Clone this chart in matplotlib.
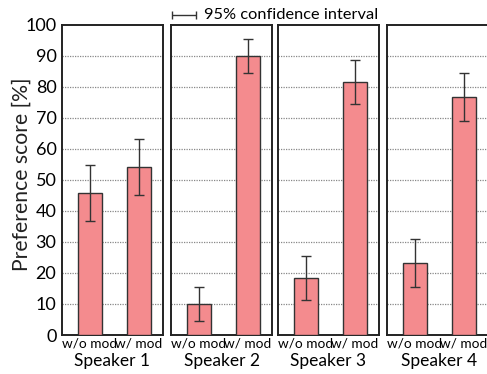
import matplotlib
matplotlib.use('Agg')
import matplotlib.pyplot as plt

plt.rcParams['font.family'] = ['Lato', 'DejaVu Sans']

speakers = ['Speaker 1', 'Speaker 2', 'Speaker 3', 'Speaker 4']
conditions = ['w/o mod', 'w/ mod']
scores = [[45.8, 54.2], [10.1, 89.9], [18.4, 81.6], [23.2, 76.8]]
ci = [[9.0, 9.0], [5.5, 5.5], [7.0, 7.0], [7.7, 7.7]]
yticks = [0, 10, 20, 30, 40, 50, 60, 70, 80, 90, 100]

bar_color = '#f48b8e'

W, H = 487, 374
fig = plt.figure(figsize=(W / 100, H / 100), dpi=100)

lefts = [62, 171, 278, 387]
widths = [101, 101, 101, 104]
bottom = (H - 335) / H
height = (335 - 24.7) / H

for i, name in enumerate(speakers):
    ax = fig.add_axes([lefts[i] / W, bottom, widths[i] / W, height])
    ax.bar([0, 1], scores[i], width=0.5, color=bar_color,
           edgecolor='#333333', linewidth=1.0, zorder=3)
    ax.errorbar([0, 1], scores[i], yerr=ci[i], fmt='none', ecolor='#333333',
                elinewidth=1.0, capsize=3.5, capthick=1.0, zorder=4)
    ax.set_xlim(-0.571, -0.571 + 2.062 * widths[i] / 101)
    ax.set_ylim(0, 100)
    for y in yticks[1:-1]:
        ax.axhline(y, color='#888888', linestyle=(0, (1, 1)), linewidth=0.9, zorder=1)
    ax.set_xticks([0, 1], conditions)
    ax.tick_params(axis='x', length=0, pad=2, labelsize=9.8)
    ax.set_xlabel(name, fontsize=12.5, labelpad=2)
    if i == 0:
        ax.set_yticks(yticks)
        ax.tick_params(axis='y', length=0, pad=4, labelsize=13)
    else:
        ax.set_yticks([])
    for s in ax.spines.values():
        s.set_linewidth(1.4)
        s.set_color('#222222')

fig.text(22 / W, 1 - 174 / H, 'Preference score [%]', rotation=90,
         fontsize=15.2, ha='center', va='center', color='#222222')

# confidence interval legend
leg = fig.add_axes([0, 0, 1, 1], facecolor='none')
leg.set_xlim(0, W)
leg.set_ylim(H, 0)
leg.axis('off')
leg.errorbar([184], [15], xerr=[12], fmt='none', ecolor='#333333',
             elinewidth=1.0, capsize=3, capthick=1.0)
leg.text(204, 14.5, '95% confidence interval', fontsize=11.8, va='center', ha='left')

fig.savefig('out.png', dpi=100)
